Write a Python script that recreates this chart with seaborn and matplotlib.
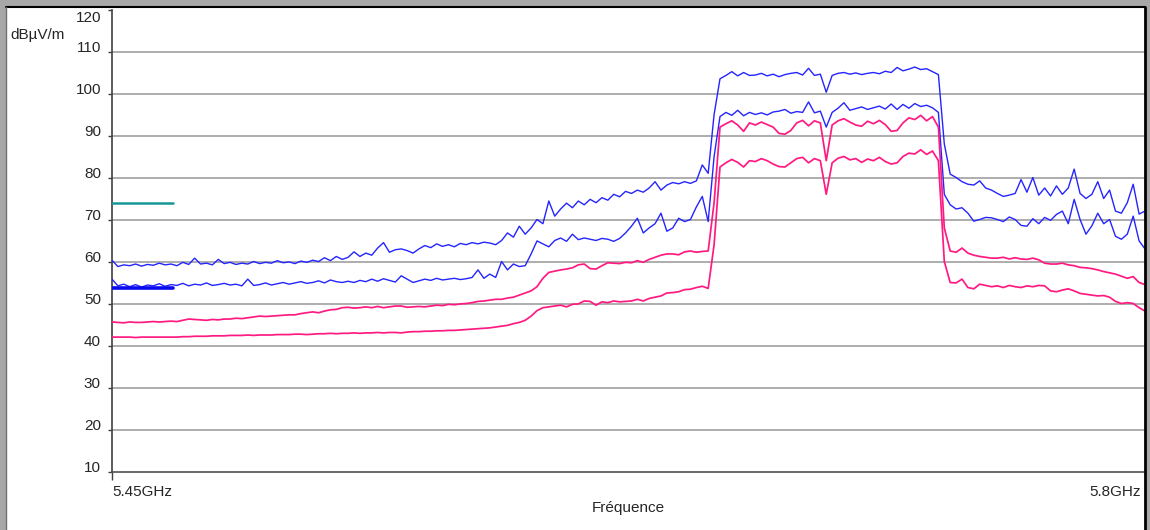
import numpy as np
import pandas as pd
import seaborn as sns
import matplotlib.pyplot as plt
from matplotlib.patches import Rectangle
from matplotlib.lines import Line2D
from matplotlib.transforms import ScaledTranslation

# frequences (GHz) - balayage 5.45 -> 5.8 GHz, pas de 2 MHz
freq = np.round(np.linspace(5.45, 5.80, 176), 4)

# trace bleue haute (crete)
bleu_haut = [
    60.3, 58.8, 59.2, 59.0, 59.4, 58.9, 59.3, 59.1, 59.6, 59.2,
    59.4, 59.0, 59.8, 59.3, 60.8, 59.4, 59.6, 59.2, 60.5, 59.5,
    59.8, 59.3, 59.6, 59.4, 60.0, 59.5, 59.8, 59.6, 60.2, 59.7,
    59.9, 59.5, 60.1, 59.8, 60.3, 60.0, 60.9, 60.2, 61.2, 60.5,
    61.0, 62.3, 61.2, 62.0, 61.5, 63.2, 64.5, 62.2, 62.8, 63.0,
    62.6, 62.0, 63.0, 63.8, 63.3, 64.2, 63.6, 64.0, 63.5, 64.3,
    64.0, 64.5, 64.2, 64.6, 64.4, 64.0, 65.0, 66.8, 65.8, 68.4,
    66.5, 68.0, 70.0, 69.0, 74.4, 70.8, 72.5, 73.9, 72.8, 74.4,
    73.5, 74.8, 74.0, 75.2, 74.6, 76.0, 75.4, 76.7, 76.2, 77.0,
    76.5, 77.5, 79.0, 77.0, 78.2, 78.8, 78.5, 79.0, 78.6, 79.2,
    83.0, 81.0, 95.0, 103.5, 104.3, 105.2, 104.2, 105.0, 104.3, 104.4,
    104.8, 104.2, 104.6, 104.0, 104.5, 104.8, 105.0, 104.4, 106.0, 104.3,
    104.6, 100.3, 104.3, 104.8, 105.0, 104.6, 104.9, 104.5, 104.8, 105.0,
    104.7, 105.3, 105.0, 106.2, 105.4, 105.8, 106.3, 105.7, 105.9, 105.2,
    104.5, 88.0, 80.8, 80.0, 79.0, 78.4, 78.2, 79.2, 77.5, 77.0,
    76.2, 75.5, 75.8, 76.2, 79.5, 76.5, 80.0, 75.8, 77.5, 75.6,
    78.0, 76.0, 77.5, 82.0, 76.2, 75.0, 76.0, 79.0, 75.0, 77.0,
    72.0, 71.5, 74.0, 78.4, 71.3, 72.0,
]

# trace bleue basse (moyenne)
bleu_bas = [
    55.8, 54.2, 54.6, 54.0, 54.5, 53.9, 54.4, 54.2, 54.7, 54.1,
    54.5, 54.3, 54.8, 54.2, 54.6, 54.4, 54.9, 54.3, 54.5, 54.8,
    54.4, 54.6, 54.2, 55.8, 54.3, 54.5, 54.9, 54.4, 54.7, 55.0,
    54.6, 54.9, 55.2, 54.8, 55.0, 55.4, 54.9, 55.6, 55.2, 55.0,
    55.3, 55.0, 55.5, 55.2, 55.8, 55.3, 55.9, 55.5, 55.1, 56.6,
    55.8, 55.0, 55.4, 55.8, 55.5, 56.0, 55.6, 55.8, 56.0, 55.7,
    55.9, 56.2, 58.0, 56.0, 57.0, 56.2, 60.0, 58.0, 59.4, 58.8,
    59.0, 61.8, 64.9, 64.2, 63.5, 65.0, 65.6, 64.8, 66.5, 65.2,
    65.6, 65.3, 65.0, 65.5, 65.3, 64.8, 65.5, 66.8, 68.4, 70.3,
    66.8, 68.0, 69.0, 71.5, 67.2, 68.0, 70.3, 69.5, 70.0, 73.0,
    75.5, 69.5, 85.0, 94.5, 95.5, 94.8, 96.0, 94.7, 95.5, 95.0,
    95.4, 94.9, 95.6, 95.8, 96.2, 95.3, 95.7, 95.5, 98.0, 95.4,
    95.8, 92.0, 95.5, 96.5, 97.8, 96.0, 96.4, 96.8, 96.2, 96.6,
    97.0, 96.3, 97.5, 96.2, 97.4, 96.5, 97.6, 96.9, 97.2, 96.6,
    95.5, 76.0, 73.5, 72.5, 72.8, 71.5, 69.6, 70.0, 70.5, 70.4,
    70.0, 69.5, 70.6, 70.0, 68.6, 68.4, 70.2, 69.0, 70.5, 69.8,
    71.2, 72.0, 69.0, 74.8, 70.0, 66.5, 68.5, 71.5, 69.0, 70.0,
    66.0, 65.3, 66.5, 70.8, 64.9, 63.0,
]

# trace rose haute
rose_haut = [
    45.6, 45.5, 45.4, 45.6, 45.5, 45.5, 45.6, 45.7, 45.6, 45.7,
    45.8, 45.7, 46.0, 46.3, 46.2, 46.1, 46.0, 46.2, 46.1, 46.3,
    46.3, 46.5, 46.4, 46.6, 46.8, 47.0, 46.9, 47.0, 47.1, 47.2,
    47.3, 47.3, 47.6, 47.8, 48.0, 47.8, 48.2, 48.5, 48.6, 49.0,
    49.1, 48.9, 49.0, 49.2, 49.0, 49.3, 49.0, 49.2, 49.4, 49.4,
    49.1, 49.2, 49.3, 49.2, 49.4, 49.6, 49.5, 49.8, 49.7, 49.9,
    50.0, 50.2, 50.5, 50.6, 50.8, 51.0, 51.0, 51.3, 51.5, 52.0,
    52.5, 53.0, 54.0, 56.0, 57.4, 57.7, 58.0, 58.2, 58.5, 59.2,
    59.4, 58.3, 58.2, 59.0, 59.7, 59.6, 59.5, 59.8, 59.7, 60.2,
    59.8, 60.5, 61.0, 61.5, 61.8, 61.8, 61.6, 62.3, 62.5, 62.2,
    62.4, 62.5, 74.0, 92.0, 92.8, 93.5, 92.5, 91.0, 93.0, 92.5,
    93.2, 92.6, 92.0, 90.5, 90.3, 91.2, 93.0, 93.6, 92.3, 93.5,
    93.0, 84.0, 92.5, 93.5, 94.0, 93.2, 92.5, 92.2, 93.4, 92.8,
    93.6, 92.6, 91.0, 91.2, 93.0, 94.2, 93.8, 94.8, 93.5, 94.5,
    92.0, 68.0, 62.5, 62.2, 63.2, 62.0, 61.5, 61.2, 61.0, 60.8,
    60.8, 61.0, 60.6, 60.9, 60.6, 60.5, 60.8, 60.4, 59.6, 59.4,
    59.4, 59.6, 59.2, 59.0, 58.6, 58.5, 58.3, 58.0, 57.6, 57.3,
    57.0, 56.5, 56.0, 56.4, 55.0, 54.5,
]

# trace rose basse
rose_bas = [
    42.0, 42.0, 42.0, 42.0, 41.9, 42.0, 42.0, 42.0, 42.0, 42.0,
    42.0, 42.0, 42.1, 42.1, 42.2, 42.2, 42.2, 42.3, 42.3, 42.3,
    42.4, 42.4, 42.4, 42.5, 42.4, 42.5, 42.5, 42.5, 42.6, 42.6,
    42.6, 42.7, 42.7, 42.6, 42.7, 42.8, 42.8, 42.9, 42.8, 42.9,
    42.9, 43.0, 42.9, 43.0, 43.0, 43.1, 43.0, 43.1, 43.1, 43.0,
    43.2, 43.3, 43.3, 43.4, 43.4, 43.5, 43.5, 43.6, 43.6, 43.7,
    43.8, 43.9, 44.0, 44.1, 44.2, 44.4, 44.6, 44.8, 45.2, 45.5,
    46.0, 47.0, 48.3, 49.0, 49.2, 49.4, 49.6, 49.2, 49.8, 49.9,
    50.6, 50.5, 49.6, 50.4, 50.2, 50.6, 50.4, 50.5, 50.6, 51.0,
    50.6, 51.2, 51.5, 51.8, 52.5, 52.6, 52.8, 53.3, 53.4, 53.8,
    54.1, 53.6, 64.0, 82.5, 83.5, 84.3, 83.6, 82.5, 84.0, 83.8,
    84.5, 84.0, 83.2, 82.6, 82.5, 83.5, 84.5, 84.8, 83.5, 84.5,
    84.0, 76.0, 83.5, 84.6, 85.0, 84.2, 84.5, 83.6, 84.4, 84.0,
    84.8, 83.8, 83.2, 83.5, 85.0, 85.8, 85.6, 86.6, 85.5, 86.3,
    84.0, 60.0, 55.0, 54.9, 55.8, 53.8, 53.5, 54.6, 54.3, 54.0,
    54.2, 53.8, 54.3, 54.0, 53.8, 54.2, 54.0, 54.3, 54.2, 53.0,
    52.8, 53.2, 53.5, 53.0, 52.4, 52.2, 52.0, 51.8, 51.9, 51.5,
    50.5, 50.0, 50.2, 50.0, 49.0, 48.2,
]

# petits segments de limite en haut a gauche
limite_freq = [5.45, 5.4707]
limite_crete = [73.9, 73.9]
limite_moy = [53.8, 53.8]

y_ticks = [10, 20, 30, 40, 50, 60, 70, 80, 90, 100, 110, 120]

df = pd.DataFrame({
    "freq": np.tile(freq, 4),
    "niveau": bleu_haut + bleu_bas + rose_haut + rose_bas,
    "trace": ["bh"] * 176 + ["bb"] * 176 + ["rh"] * 176 + ["rb"] * 176,
})
couleurs = {"bh": "#2424ff", "bb": "#2424ff", "rh": "#ff1a82", "rb": "#ff1a82"}
epaisseurs = {"bh": 1.0, "bb": 1.0, "rh": 1.25, "rb": 1.25}

sns.set_style("white")
plt.rcParams["font.family"] = ["Liberation Sans", "DejaVu Sans"]

fig = plt.figure(figsize=(11.5, 5.3), dpi=100, facecolor="#a8a8a8")
W, H = 1150, 530
# zone blanche du cadre
fig.patches.append(Rectangle((6 / W, 0), (1145 - 6) / W, (H - 7) / H,
                             transform=fig.transFigure, facecolor="white",
                             edgecolor="none", zorder=-5))
fig.lines.append(Line2D([6 / W, 1145 / W], [(H - 7) / H] * 2, transform=fig.transFigure,
                        color="black", lw=1.5, zorder=5))
fig.lines.append(Line2D([1145 / W] * 2, [0, (H - 7) / H], transform=fig.transFigure,
                        color="black", lw=2, zorder=5))
fig.lines.append(Line2D([5.5 / W] * 2, [0, (H - 7) / H], transform=fig.transFigure,
                        color="#707070", lw=1, zorder=5))

ax = fig.add_axes([112 / W, (H - 471.5) / H, (1145 - 112) / W, (471.5 - 9.5) / H])
ax.set_facecolor("none")

for t in ["bh", "bb", "rh", "rb"]:
    sub = df[df["trace"] == t]
    sns.lineplot(data=sub, x="freq", y="niveau", ax=ax, color=couleurs[t],
                 lw=epaisseurs[t], estimator=None, legend=False, zorder=3)

ax.plot(limite_freq, limite_crete, color="#169696", lw=1.8, zorder=4)
ax.plot(limite_freq, limite_moy, color="#0a0af0", lw=2.6, zorder=4)

ax.set_xlim(5.45, 5.80)
ax.set_ylim(10, 120)
ax.set_yticks(y_ticks)
ax.set_xticks([5.45, 5.80])
ax.set_xticklabels(["5.45GHz", "5.8GHz"])
for g in y_ticks[1:-1]:
    ax.axhline(g, color="#a0a0a0", lw=1.2, zorder=1)

for s in ["top", "right"]:
    ax.spines[s].set_visible(False)
ax.spines["left"].set_color("#404040")
ax.spines["bottom"].set_color("#505050")
ax.spines["left"].set_linewidth(1.2)
ax.spines["bottom"].set_linewidth(1.2)

ax.tick_params(axis="y", direction="out", length=3, width=1, color="#404040",
               labelsize=11, pad=5, left=True)
ax.tick_params(axis="x", direction="out", length=6, width=1, color="#404040",
               labelsize=11, pad=4, bottom=True)
for lab, v in zip(ax.get_yticklabels(), y_ticks):
    dy = -7 if v == 120 else 5
    lab.set_transform(lab.get_transform() + ScaledTranslation(0, dy / 100, fig.dpi_scale_trans))
xl = ax.get_xticklabels()
xl[0].set_ha("left")
xl[1].set_ha("right")
xl[1].set_transform(xl[1].get_transform() + ScaledTranslation(-4 / 100, 0, fig.dpi_scale_trans))
xt = ax.xaxis.get_major_ticks()
xt[1].tick1line.set_visible(False)

ax.set_xlabel("Fréquence", fontsize=11, labelpad=1)
ax.set_ylabel("")
fig.text(10 / W, (H - 35) / H, "dBµV/m", fontsize=11, va="center", ha="left")

fig.savefig("out.png", dpi=100, facecolor=fig.get_facecolor())
